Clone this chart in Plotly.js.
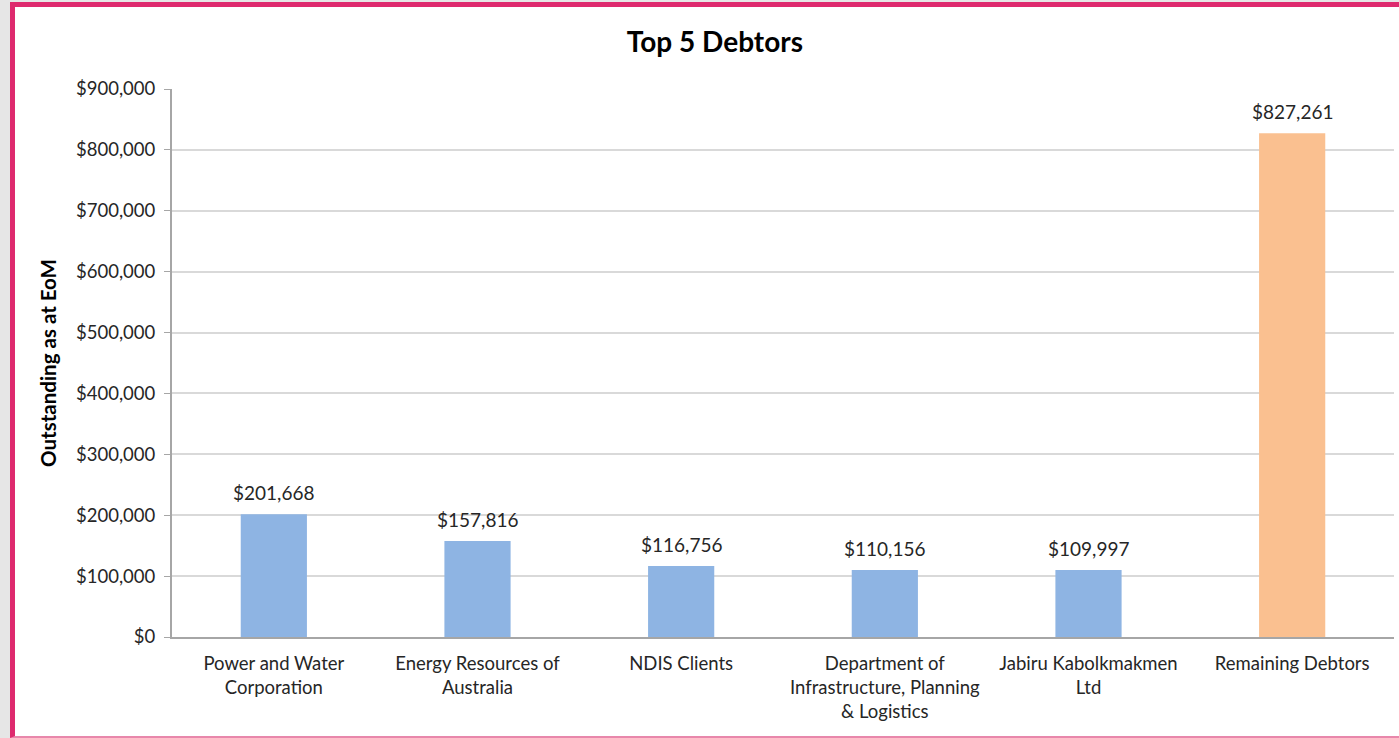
<!DOCTYPE html>
<html>
<head>
<meta charset="utf-8">
<script src="https://cdn.plot.ly/plotly-3.0.1.min.js"></script>
<style>
  html, body { margin:0; padding:0; width:1399px; height:738px; overflow:hidden; background:#e6e6e6; }
  #frame { position:absolute; left:10px; top:2px; width:1400px; height:729px; background:#ffffff;
           border-left:5px solid #de2a6e; border-top:5px solid #de2a6e; border-bottom:2px solid #e887ab; }
  #chart { position:absolute; left:0; top:0; width:1399px; height:738px; }
</style>
</head>
<body>
<div id="frame"></div>
<div id="chart"></div>
<script>
const categories = [
  "Power and Water<br>Corporation",
  "Energy Resources of<br>Australia",
  "NDIS Clients",
  "Department of<br>Infrastructure, Planning<br>& Logistics",
  "Jabiru Kabolkmakmen<br>Ltd",
  "Remaining Debtors"
];
const values = [201668, 157816, 116756, 110156, 109997, 827261];
const barColors = ["#8eb4e3", "#8eb4e3", "#8eb4e3", "#8eb4e3", "#8eb4e3", "#fac090"];
const labels = values.map(v => "$" + v.toLocaleString("en-US"));

const font = "Lato, 'Open Sans', sans-serif";

const annotations = categories.map((c, i) => ({
  x: c, y: values[i], xref: "x", yref: "y",
  text: labels[i], showarrow: false,
  yanchor: "bottom", yshift: 8,
  font: { family: font, size: 19, color: "#262626" }
}));

Plotly.newPlot("chart", [{
  type: "bar",
  x: categories,
  y: values,
  marker: { color: barColors },
  hoverinfo: "x+y"
}], {
  width: 1399, height: 738,
  paper_bgcolor: "rgba(0,0,0,0)",
  plot_bgcolor: "rgba(0,0,0,0)",
  margin: { l: 172, r: 5, t: 89, b: 101 },
  bargap: 0.675,
  showlegend: false,
  annotations: annotations,
  title: { text: "<b>Top 5 Debtors</b>", x: 0.511, xanchor: "center", y: 0.943, yanchor: "middle",
           font: { family: font, size: 28, color: "#000000" } },
  xaxis: {
    type: "category",
    showline: true, linecolor: "#a6a6a6", linewidth: 2,
    ticks: "", showgrid: false,
    ticklabelstandoff: 9,
    tickfont: { family: font, size: 18.5, color: "#262626" },
    automargin: false
  },
  yaxis: {
    range: [0, 900000], dtick: 100000, tick0: 0,
    tickprefix: "$", tickformat: ",d", separatethousands: true,
    showline: true, linecolor: "#a6a6a6", linewidth: 2,
    ticks: "outside", ticklen: 6, tickcolor: "#a6a6a6",
    ticklabelstandoff: 5,
    showgrid: true, gridcolor: "#d9d9d9", gridwidth: 2,
    zeroline: false,
    tickfont: { family: font, size: 18.5, color: "#262626" },
    title: { text: "<b>Outstanding as at EoM</b>", standoff: 14,
             font: { family: font, size: 20.5, color: "#000000" } },
    automargin: false
  }
}, { displayModeBar: false, staticPlot: true });
</script>
</body>
</html>
